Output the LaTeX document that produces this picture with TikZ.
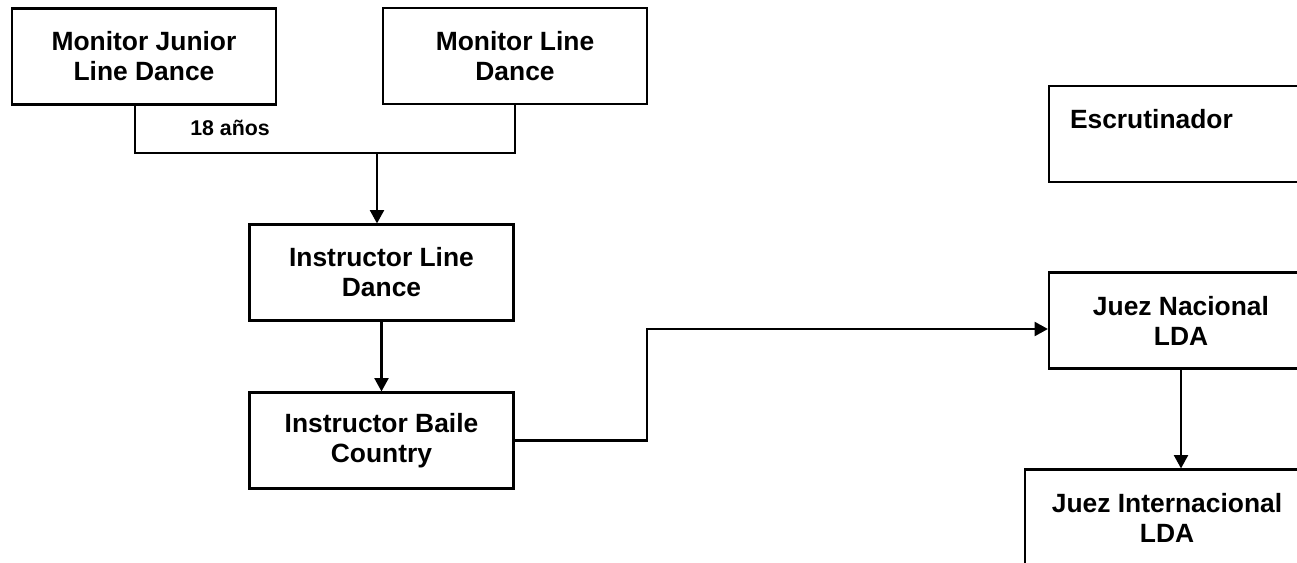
\documentclass[tikz,border=0pt]{standalone}
\usepackage{fontspec}
\setmainfont{Liberation Sans}
\usepackage{tikz}
\usetikzlibrary{arrows.meta, calc}

\newcommand{\cajafont}{\fontsize{19.8}{22.5}\selectfont\bfseries}
\newcommand{\notafont}{\fontsize{16}{18}\selectfont\bfseries}

\tikzset{
	caja/.style={draw, line width=1.6pt, minimum width=198pt, minimum height=72pt, inner sep=0pt, align=center, font=\cajafont},
	linea/.style={line width=1.6pt},
	flecha/.style={line width=1.6pt, -{Triangle[length=10pt, width=10.5pt]}},
}

\begin{document}
\begin{tikzpicture}[x=0.75pt, y=-0.75pt]
	\useasboundingbox (0,0) rectangle (1297,563);
	\clip (0,0) rectangle (1297,563);
	
	\node [caja] (MJ) at (144,56.5) {Monitor Junior\\Line Dance};
	\node [caja] (ML) at (515,56) {Monitor Line\\Dance};
	\node [caja] (IL) at (381.5,272.5) {Instructor Line\\Dance};
	\node [caja] (IB) at (381.5,440.5) {Instructor Baile\\Country};
	\node [caja, text width=166.5pt, align=left] (ES) at (1181,134) {Escrutinador\\\mbox{}};
	\node [caja] (JN) at (1181,320.5) {Juez Nacional\\LDA};
	\node [caja, minimum width=213pt] (JI) at (1167,517.5) {Juez Internacional\\LDA};
	
	\coordinate (union) at (377,153);
	\coordinate (codo) at (647,329);
	
	\draw [linea] ([xshift=-7pt]MJ.south) |- (ML.south |- union) -- (ML.south);
	\node [font=\notafont] (edad) at (230,128) {18 años};
	
	\draw [flecha] (union) -- (union |- IL.north);
	\draw [flecha] (IL.south) -- (IB.north);
	\draw [flecha] (IB.east) -| (codo) -- (JN.west |- codo);
	\draw [flecha] (JN.south) -- (JN.south |- JI.north);
\end{tikzpicture}
\end{document}
